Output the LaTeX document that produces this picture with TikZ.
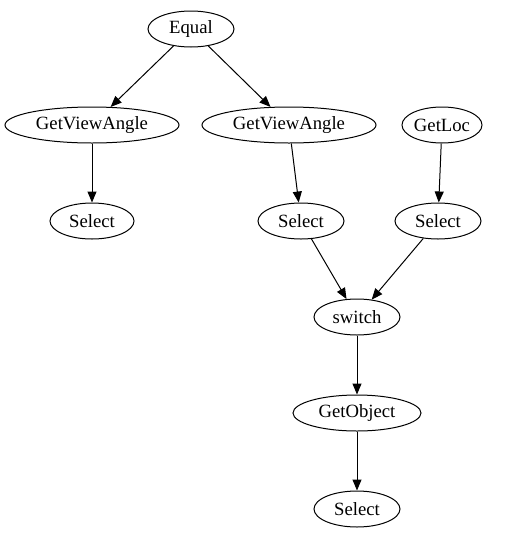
\documentclass[tikz,border=0pt]{standalone}
\usepackage{fontspec}
\setmainfont{Liberation Serif}
\usetikzlibrary{shapes.geometric,arrows.meta}
\begin{document}
\begin{tikzpicture}[x=1pt,y=-1pt,
  nd/.style={ellipse,draw,line width=1pt,inner sep=0pt,minimum height=36pt,minimum width=86pt,font=\fontsize{18.7}{20}\selectfont},
  ed/.style={line width=1pt,-{Triangle[length=11pt,width=9pt]}}]
\useasboundingbox (0,0) rectangle (506,539);
\node[nd] (equal) at (191,29) {Equal};
\node[nd,minimum width=174pt] (gva1) at (92,125) {GetViewAngle};
\node[nd,minimum width=174pt] (gva2) at (289,125) {GetViewAngle};
\node[nd,minimum width=80pt] (getloc) at (442,125) {GetLoc};
\node[nd,minimum width=84pt] (sel1) at (92,221) {Select};
\node[nd] (sel2) at (301,221) {Select};
\node[nd] (sel3) at (438,221) {Select};
\node[nd] (switch) at (357,317) {switch};
\node[nd,minimum width=128pt] (getobj) at (357,413) {GetObject};
\node[nd] (sel4) at (357,509) {Select};
\draw[ed] (equal) -- (gva1);
\draw[ed] (equal) -- (gva2);
\draw[ed] (gva1) -- (sel1);
\draw[ed] (gva2) -- (sel2);
\draw[ed] (getloc) -- (sel3);
\draw[ed] (sel2) -- (switch);
\draw[ed] (sel3) -- (switch);
\draw[ed] (switch) -- (getobj);
\draw[ed] (getobj) -- (sel4);
\end{tikzpicture}
\end{document}
